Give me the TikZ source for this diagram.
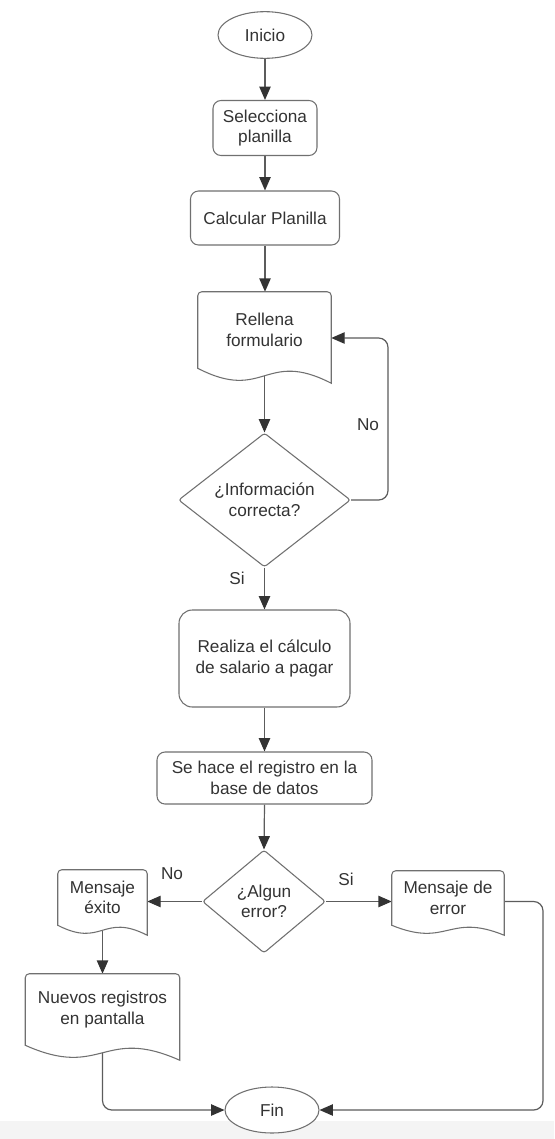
\documentclass[tikz,border=0pt]{standalone}
\usepackage{fontspec}
\setmainfont{Liberation Sans}
\usetikzlibrary{arrows.meta,shapes.geometric,calc}

\pgfdeclarelayer{edges}
\pgfdeclarelayer{docs}
\pgfsetlayers{edges,docs,main}

\definecolor{ink}{HTML}{333333}
\definecolor{outline}{HTML}{707070}
\definecolor{wire}{HTML}{5C5C5C}
\definecolor{band}{HTML}{F4F4F4}

% document symbol: flat top, wavy bottom that drops #2 units below the node's south side
\newcommand\docoutline[2]{%
  \begin{pgfonlayer}{docs}
    \draw[outline, line width=0.8pt, fill=white]
      (#1.south west) [rounded corners=3pt] -- (#1.north west) -- (#1.north east)
      [sharp corners] -- ($(#1.south east)+(0,#2)$)
      .. controls ($(#1.south)+(0,-1.3*#2)$) and ($(#1.south)+(0,2.3*#2)$) .. (#1.south west)
      -- cycle;
  \end{pgfonlayer}}

\begin{document}
\begin{tikzpicture}[x=0.75pt,y=-0.75pt,
  every node/.style={align=center, text=ink, font=\fontsize{12.9}{15.4}\selectfont},
  startend/.style={ellipse, draw=outline, line width=0.8pt, fill=white, inner sep=0pt,
    minimum width=70.5pt, minimum height=35pt},
  procbox/.style={rectangle, rounded corners=6pt, draw=outline, line width=0.8pt, fill=white, inner sep=0pt},
  decision/.style={diamond, draw=outline, line width=0.8pt, fill=white, inner sep=0pt, rounded corners=2pt},
  docbox/.style={rectangle, inner sep=0pt},
  lbl/.style={inner sep=0pt},
  conn/.style={draw=wire, line width=0.9pt, -{Triangle[length=10pt,width=8.5pt,color=ink]}},
  loopconn/.style={conn, rounded corners=7pt}]

% canvas
\useasboundingbox (0,0) rectangle (554,1139);

% nodes
\node[startend] (inicio) at (265,35) {Inicio};
\node[procbox, minimum width=78pt, minimum height=41.25pt] (selecciona) at (265,128) {Selecciona\\planilla};
\node[procbox, minimum width=111.75pt, minimum height=40.5pt] (calcular) at (265,218) {Calcular Planilla};
\node[docbox, minimum width=99.75pt, minimum height=57pt] (rellena) at (264.5,330) {Rellena\\formulario};
\node[decision, aspect=1.28, minimum width=129pt, minimum height=100.5pt] (info) at (264.5,500) {¿Información\\correcta?};
\node[procbox, rounded corners=10pt, minimum width=128.25pt, minimum height=72.75pt] (realiza) at (264.5,658.5) {Realiza el cálculo\\de salario a pagar};
\node[procbox, minimum width=161.25pt, minimum height=39pt] (registro) at (264.5,778) {Se hace el registro en la\\base de datos};
\node[decision, aspect=1.19, minimum width=92.25pt, minimum height=77.25pt] (error) at (264,901.5) {¿Algun\\error?};
\node[docbox, minimum width=66.75pt, minimum height=41.25pt] (exito) at (102.5,897.5) {Mensaje\\éxito};
\node[docbox, minimum width=84pt, minimum height=40.5pt] (msgerror) at (448,898) {Mensaje de\\error};
\node[docbox, minimum width=115.5pt, minimum height=53.25pt] (nuevos) at (102.5,1009.5) {Nuevos registros\\en pantalla};
\node[startend, minimum height=34.5pt] (fin) at (272,1110) {Fin};

% document outlines
\docoutline{rellena}{15}
\docoutline{exito}{10}
\docoutline{msgerror}{10}
\docoutline{nuevos}{15}

% branch labels
\node[lbl] (no1) at (368,425) {No};
\node[lbl] (si1) at (237,578) {Si};
\node[lbl] (no2) at (172,874) {No};
\node[lbl] (si2) at (346,879) {Si};

% bend points of the return lines
\coordinate (loopc) at (388,338);
\coordinate (rightc) at (543,1110);

% connectors
\begin{pgfonlayer}{edges}
  \fill[white] (0,0) rectangle (554,1139);
  \fill[band] (0,1121) rectangle (554,1139);
  \draw[conn] (inicio) -- (selecciona);
  \draw[conn] (selecciona) -- (calcular);
  \draw[conn] (calcular.south) -- (calcular.south |- rellena.north);
  \draw[conn] (rellena.south) -- (info.north);
  \draw[loopconn] (info.east) -| (loopc) -- (rellena.east |- loopc);
  \draw[conn] (info.south) -- (realiza.north);
  \draw[conn] (realiza.south) -- (registro.north);
  \draw[conn] (registro.south) -- (error.north);
  \draw[conn] (error.west) -- (exito.east |- error.west);
  \draw[conn] (error.east) -- (msgerror.west |- error.east);
  \draw[conn] (exito.south) -- (nuevos.north);
  \draw[loopconn] (nuevos.south) |- (fin.west);
  \draw[loopconn] (msgerror.east |- error.east) -| (rightc) -- (fin.east);
\end{pgfonlayer}
\end{tikzpicture}
\end{document}
